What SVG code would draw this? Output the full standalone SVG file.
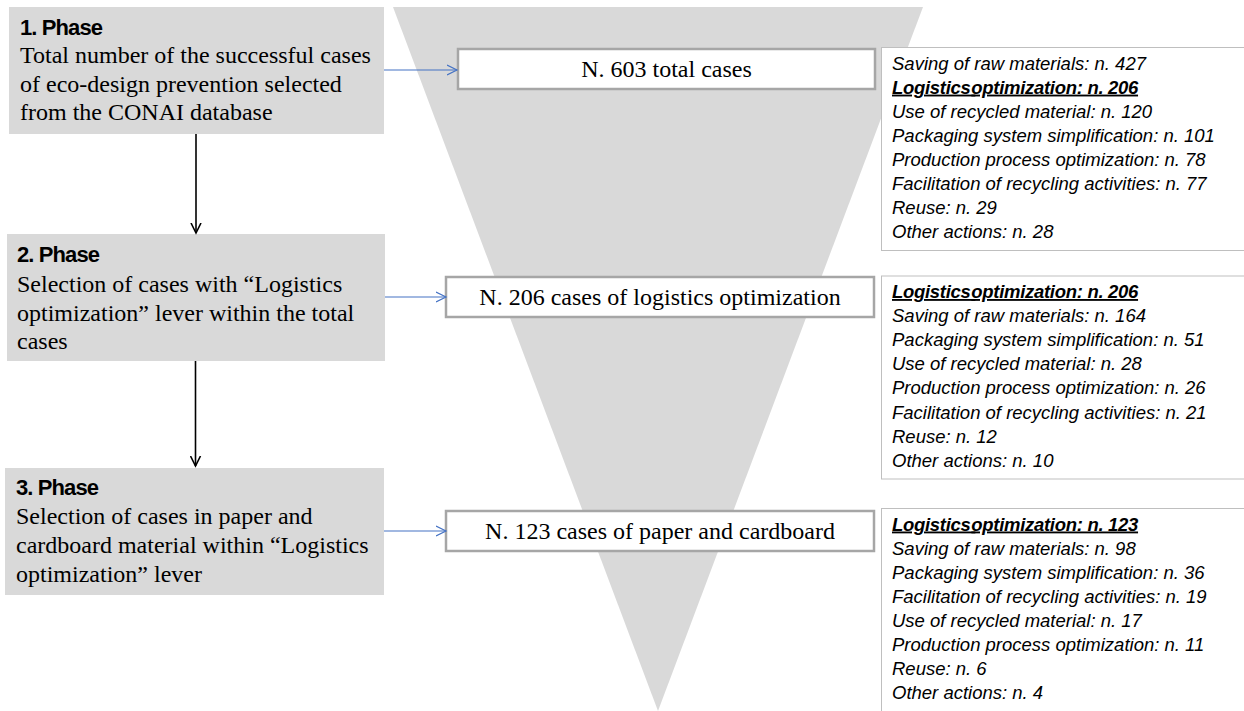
<svg xmlns="http://www.w3.org/2000/svg" width="1244" height="711" viewBox="0 0 1244 711">
<style>
.phase{fill:#d9d9d9}
.title{font-family:"Liberation Sans",Arial,sans-serif;font-weight:bold;font-size:22px;letter-spacing:-0.9px;fill:#000}
.body{font-family:"Liberation Serif","Times New Roman",serif;font-size:24px;fill:#000}
.cbox{fill:#fff;stroke:#a6a6a6;stroke-width:2.5}
.ctext{font-family:"Liberation Serif","Times New Roman",serif;font-size:24px;fill:#000;text-anchor:middle}
.rbox{fill:#fff;stroke:#bfbfbf;stroke-width:1}
.rtext{font-family:"Liberation Sans",Arial,sans-serif;font-style:italic;font-size:18.5px;fill:#000}
.rbold{font-weight:bold;text-decoration:underline;letter-spacing:-0.3px}
.blue{stroke:#4472c4;stroke-width:1.2;fill:none}
.black{stroke:#000;stroke-width:1.6;fill:none}
</style>
<defs>
<marker id="bh" markerUnits="userSpaceOnUse" markerWidth="12" markerHeight="12" refX="10" refY="5" orient="auto" viewBox="0 0 12 10">
<path d="M0,0 L10,5 L0,10" fill="none" stroke="#4472c4" stroke-width="1.2"/>
</marker>
<marker id="kh" markerUnits="userSpaceOnUse" markerWidth="12" markerHeight="12" refX="10" refY="5" orient="auto" viewBox="0 0 12 10">
<path d="M0,0 L10,5 L0,10" fill="none" stroke="#000" stroke-width="1.6"/>
</marker>
</defs>
<rect width="1244" height="711" fill="#fff"/>
<polygon id="funnel" points="393,7 923,7 658,711" fill="#d9d9d9"/>

<g id="phase1">
<rect class="phase" x="9" y="7" width="375" height="127"/>
<text class="title" x="20" y="35">1. Phase</text>
<text class="body" x="20" y="63">Total number of the successful cases</text>
<text class="body" x="20" y="92">of eco-design prevention selected</text>
<text class="body" x="20" y="120">from the CONAI database</text>
</g>
<g id="phase2">
<rect class="phase" x="7" y="234" width="378" height="127"/>
<text class="title" x="17" y="262">2. Phase</text>
<text class="body" x="17" y="292">Selection of cases with “Logistics</text>
<text class="body" x="17" y="321">optimization” lever within the total</text>
<text class="body" x="17" y="349">cases</text>
</g>
<g id="phase3">
<rect class="phase" x="5" y="468" width="379" height="127"/>
<text class="title" x="16" y="495">3. Phase</text>
<text class="body" x="16" y="524">Selection of cases in paper and</text>
<text class="body" x="16" y="553">cardboard material within “Logistics</text>
<text class="body" x="16" y="582">optimization” lever</text>
</g>

<g id="count1">
<rect class="cbox" x="458" y="49" width="417" height="40"/>
<text class="ctext" x="666.5" y="77">N. 603 total cases</text>
</g>
<g id="count2">
<rect class="cbox" x="446" y="277" width="428" height="40"/>
<text class="ctext" x="660" y="305">N. 206 cases of logistics optimization</text>
</g>
<g id="count3">
<rect class="cbox" x="446" y="511" width="428" height="40"/>
<text class="ctext" x="660" y="538.5">N. 123 cases of paper and cardboard</text>
</g>

<g id="list1">
<rect class="rbox" x="881.5" y="47.5" width="370" height="203"/>
<text class="rtext" x="892" y="69.5">Saving of raw materials: n. 427</text>
<text class="rtext rbold" x="892" y="93.6">Logistics <tspan dx="-4">optimization: n. 206</tspan></text>
<text class="rtext" x="892" y="117.7">Use of recycled material: n. 120</text>
<text class="rtext" x="892" y="141.8">Packaging system simplification: n. 101</text>
<text class="rtext" x="892" y="165.9">Production process optimization: n. 78</text>
<text class="rtext" x="892" y="190">Facilitation of recycling activities: n. 77</text>
<text class="rtext" x="892" y="214.1">Reuse: n. 29</text>
<text class="rtext" x="892" y="238.2">Other actions: n. 28</text>
</g>
<g id="list2">
<rect class="rbox" x="881.5" y="276" width="370" height="203"/>
<text class="rtext rbold" x="892" y="298">Logistics <tspan dx="-4">optimization: n. 206</tspan></text>
<text class="rtext" x="892" y="322.1">Saving of raw materials: n. 164</text>
<text class="rtext" x="892" y="346.2">Packaging system simplification: n. 51</text>
<text class="rtext" x="892" y="370.3">Use of recycled material: n. 28</text>
<text class="rtext" x="892" y="394.4">Production process optimization: n. 26</text>
<text class="rtext" x="892" y="418.5">Facilitation of recycling activities: n. 21</text>
<text class="rtext" x="892" y="442.6">Reuse: n. 12</text>
<text class="rtext" x="892" y="466.7">Other actions: n. 10</text>
</g>
<g id="list3">
<rect class="rbox" x="881.5" y="508.5" width="370" height="220"/>
<text class="rtext rbold" x="892" y="530.5">Logistics <tspan dx="-4">optimization: n. 123</tspan></text>
<text class="rtext" x="892" y="554.6">Saving of raw materials: n. 98</text>
<text class="rtext" x="892" y="578.7">Packaging system simplification: n. 36</text>
<text class="rtext" x="892" y="602.8">Facilitation of recycling activities: n. 19</text>
<text class="rtext" x="892" y="626.9">Use of recycled material: n. 17</text>
<text class="rtext" x="892" y="651">Production process optimization: n. 11</text>
<text class="rtext" x="892" y="675.1">Reuse: n. 6</text>
<text class="rtext" x="892" y="699.2">Other actions: n. 4</text>
</g>

<g id="connectors">
<line class="black" x1="196" y1="134" x2="196" y2="233" marker-end="url(#kh)"/>
<line class="black" x1="195.5" y1="361" x2="195.5" y2="466" marker-end="url(#kh)"/>
<line class="blue" x1="384" y1="70" x2="457" y2="70" marker-end="url(#bh)"/>
<line class="blue" x1="385" y1="297" x2="446" y2="297" marker-end="url(#bh)"/>
<line class="blue" x1="384" y1="531" x2="446" y2="531" marker-end="url(#bh)"/>
</g>
</svg>
